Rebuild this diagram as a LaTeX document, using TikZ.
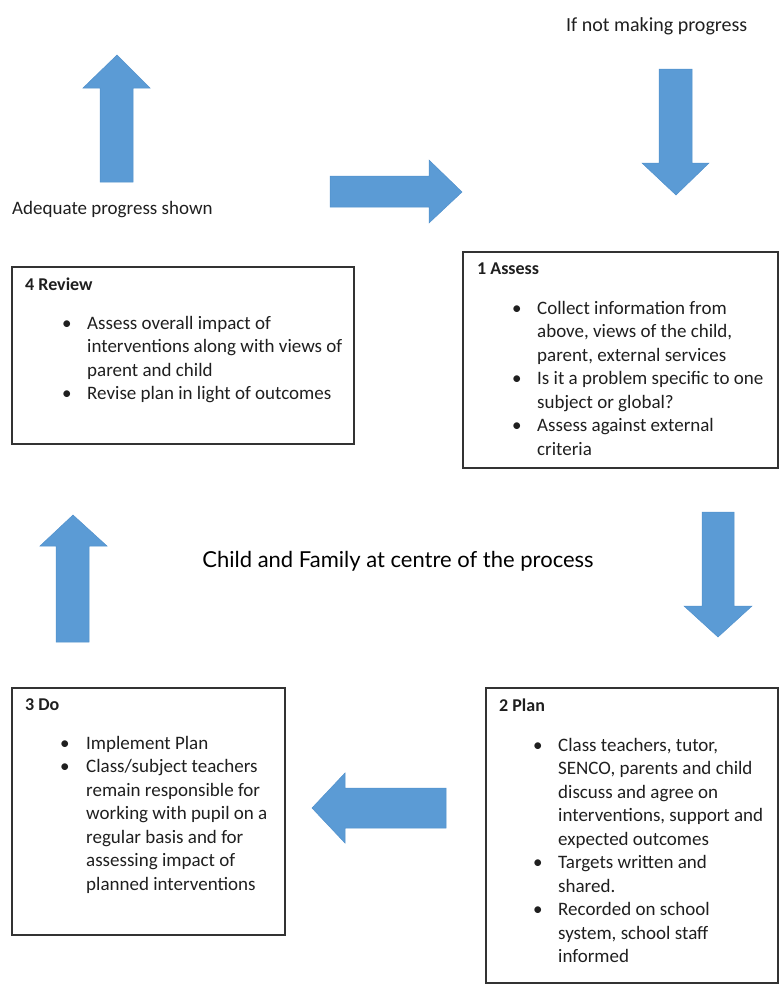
\documentclass[tikz,border=0pt]{standalone}
\usepackage{fontspec}
\setmainfont{Carlito}
\newfontfamily\centrefont{Lato}
\definecolor{arrowblue}{HTML}{5B9BD5}
\definecolor{arrowedge}{HTML}{5090CC}
\definecolor{textgrey}{HTML}{1F1F1F}

\begin{document}
\begin{tikzpicture}[x=1pt,y=-1pt,
  blockarrow/.style={fill=arrowblue,draw=arrowedge,line width=0.5pt},
  stagebox/.style={draw=black!80,line width=1.1pt},
  boxtitle/.style={anchor=base west,inner sep=0pt,text=textgrey,font=\bfseries\fontsize{18}{23.5}\selectfont},
  boxtext/.style={anchor=base west,inner sep=0pt,text=textgrey,font=\fontsize{19}{23.5}\selectfont}]
\useasboundingbox (0,0) rectangle (779,989);

\filldraw[blockarrow] (100,182) -- (100,88) -- (83,88) -- (117,55) -- (150,88) -- (133,88) -- (133,182) -- cycle;
\filldraw[blockarrow] (330,176) -- (429,176) -- (429,160) -- (462,192) -- (429,223) -- (429,207) -- (330,207) -- cycle;
\filldraw[blockarrow] (659,69) -- (692,69) -- (692,163) -- (709,163) -- (676,195) -- (642,163) -- (659,163) -- cycle;
\filldraw[blockarrow] (702,512) -- (734,512) -- (734,606) -- (752,606) -- (718,637) -- (684,606) -- (702,606) -- cycle;
\filldraw[blockarrow] (56,642) -- (56,546) -- (40,546) -- (73,515) -- (107,546) -- (89,546) -- (89,642) -- cycle;
\filldraw[blockarrow] (446,788) -- (345,788) -- (345,773) -- (312,808) -- (345,843) -- (345,828) -- (446,828) -- cycle;

\node[boxtext,font=\fontsize{20}{24}\selectfont] (notprogress) at (566,31) {If not making progress};
\node[boxtext,font=\fontsize{19}{24}\selectfont] (adequate) at (12,214) {Adequate progress shown};
\node[inner sep=0pt,text=black,font=\centrefont\fontsize{22}{26}\selectfont] (centre) at (398,561) {Child and Family at centre of the process};

\draw[stagebox] (12,267) rectangle (354,444);
\node[boxtitle] (reviewtitle) at (25,290) {4 Review};
\node[boxtext] (reviewlist) at (62,329) {\begin{tabular}[t]{@{}p{25pt}@{}l@{}}
\textbullet & Assess overall impact of\\
 & interventions along with views of\\
 & parent and child\\
\textbullet & Revise plan in light of outcomes
\end{tabular}};

\draw[stagebox] (463,252) rectangle (778,468);
\node[boxtitle] (assesstitle) at (477,274) {1 Assess};
\node[boxtext] (assesslist) at (512,314) {\begin{tabular}[t]{@{}p{25pt}@{}l@{}}
\textbullet & Collect information from\\
 & above, views of the child,\\
 & parent, external services\\
\textbullet & Is it a problem specific to one\\
 & subject or global?\\
\textbullet & Assess against external\\
 & criteria
\end{tabular}};

\draw[stagebox] (12,688) rectangle (285,935);
\node[boxtitle] (dotitle) at (25,710) {3 Do};
\node[boxtext] (dolist) at (60,749) {\begin{tabular}[t]{@{}p{26pt}@{}l@{}}
\textbullet & Implement Plan\\
\textbullet & Class/subject teachers\\
 & remain responsible for\\
 & working with pupil on a\\
 & regular basis and for\\
 & assessing impact of\\
 & planned interventions
\end{tabular}};

\draw[stagebox] (486,688) rectangle (778,983);
\node[boxtitle] (plantitle) at (499,711) {2 Plan};
\node[boxtext] (planlist) at (533,751) {\begin{tabular}[t]{@{}p{25pt}@{}l@{}}
\textbullet & Class teachers, tutor,\\
 & SENCO, parents and child\\
 & discuss and agree on\\
 & interventions, support and\\
 & expected outcomes\\
\textbullet & Targets written and\\
 & shared.\\
\textbullet & Recorded on school\\
 & system, school staff\\
 & informed
\end{tabular}};
\end{tikzpicture}
\end{document}
